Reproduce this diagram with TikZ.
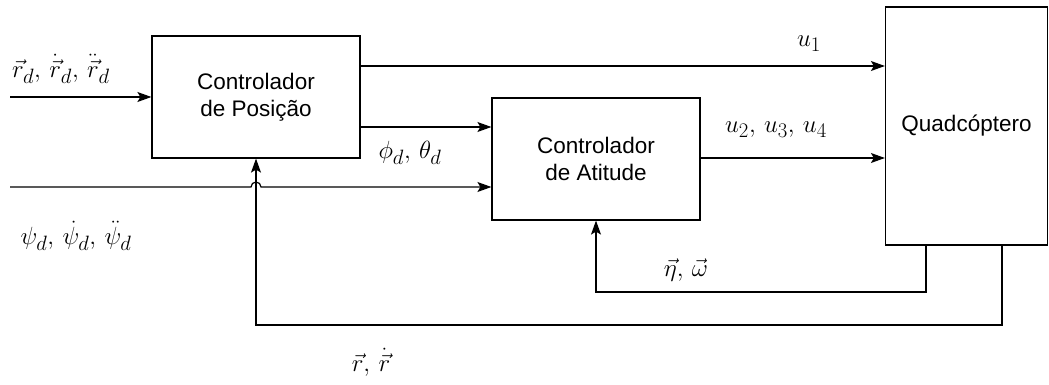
\documentclass[tikz,border=0pt]{standalone}
\usepackage{fontspec}
\setmainfont{Liberation Sans}
\usetikzlibrary{arrows.meta}
\tikzset{
  blk/.style={draw, line width=1.2pt, align=center, font=\fontsize{22.5}{27}\selectfont, inner sep=0pt},
  sig/.style={line width=1.2pt, -{Stealth[length=14pt,width=10pt,inset=3pt]}},
  wire/.style={line width=1.2pt},
  lbl/.style={font=\fontsize{28}{32}\selectfont, inner sep=0pt}
}
\begin{document}
\begin{tikzpicture}[x=1pt,y=-1pt]
\useasboundingbox (0,0) rectangle (1049,385);
\node[blk, minimum width=208pt, minimum height=122pt] (pc) at (256,97) {Controlador\\de Posição};
\node[blk, minimum width=208pt, minimum height=122pt] (ac) at (596,159) {Controlador\\de Atitude};
\node[blk, minimum width=162pt, minimum height=238pt] (q) at (966.5,126) {Quadcóptero};
\coordinate (in1) at (10,97);
\coordinate (in2) at (10,187);
\coordinate (j1) at (251,187);
\coordinate (j2) at (261,187);
\coordinate (f1) at (926,292);
\coordinate (f2) at (1002,325);
% inputs
\draw[sig] (in1) -- (pc.west);
\draw[sig] (in2) -- (j1) arc[start angle=180,end angle=0,radius=5pt] -- (in2 -| ac.west);
% outputs of position controller
\draw[sig] (pc.east |- 0,66) -- (q.west |- 0,66);
\draw[sig] (pc.east |- 0,127) -- (ac.west |- 0,127);
\draw[sig] (ac.east |- 0,158) -- (q.west |- 0,158);
% feedback
\draw[sig] (q.south -| f1) -- (f1) -- (f1 -| ac.south) -- (ac.south);
\draw[sig] (q.south -| f2) -- (f2) -- (f2 -| pc.south) -- (pc.south);
% labels
\node[lbl] (l1) at (61,69) {$\vec{r}_d,\,\dot{\vec{r}}_d,\,\ddot{\vec{r}}_d$};
\node[lbl] (l2) at (76,236) {$\psi_d,\,\dot{\psi}_d,\,\ddot{\psi}_d$};
\node[lbl] (l3) at (809,44) {$u_1$};
\node[lbl] (l4) at (776,130) {$u_2,\,u_3,\,u_4$};
\node[lbl] (l5) at (410,153) {$\phi_d,\,\theta_d$};
\node[lbl] (l6) at (686,270) {$\vec{\eta},\,\vec{\omega}$};
\node[lbl] (l7) at (371,362) {$\vec{r},\,\dot{\vec{r}}$};
\end{tikzpicture}
\end{document}
